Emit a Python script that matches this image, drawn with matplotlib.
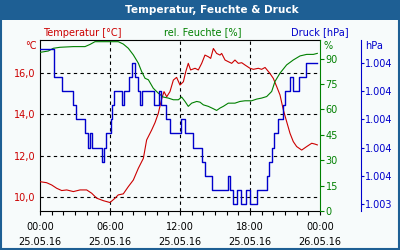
import matplotlib
matplotlib.use("Agg")
import matplotlib.pyplot as plt
from matplotlib.patches import Rectangle
from matplotlib.ticker import FixedLocator, FuncFormatter

# hours since 25.05.16 00:00
temp_hours = [0.00, 0.57, 1.00, 1.43, 1.86, 2.29, 2.86, 3.43, 4.00, 4.43, 4.86, 5.43, 6.00,
              6.43, 6.71, 7.14, 7.57, 8.00, 8.43, 8.86, 9.14, 9.57, 9.86, 10.14, 10.43, 10.63,
              10.86, 11.14, 11.43, 11.71, 12.00, 12.29, 12.49, 12.71, 12.91, 13.29, 13.57,
              13.86, 14.14, 14.43, 14.63, 14.86, 15.14, 15.43, 15.57, 15.86, 16.14, 16.43,
              16.71, 17.00, 17.29, 17.57, 18.00, 18.29, 18.71, 19.00, 19.29, 19.71, 20.00,
              20.29, 20.57, 20.86, 21.14, 21.43, 21.71, 22.00, 22.43, 22.86, 23.29, 23.57, 23.77]
temp_values = [10.74, 10.69, 10.58, 10.42, 10.31, 10.34, 10.26, 10.34, 10.34, 10.18, 9.94, 9.82,
               9.73, 9.94, 10.10, 10.15, 10.50, 10.82, 11.39, 11.87, 12.76, 13.24, 13.60, 14.05,
               14.75, 15.10, 14.85, 15.10, 15.66, 15.79, 15.42, 15.58, 16.06, 16.47, 16.15,
               16.23, 16.15, 16.47, 16.87, 16.79, 16.71, 17.19, 16.95, 16.87, 16.95, 16.63,
               16.55, 16.47, 16.63, 16.47, 16.50, 16.39, 16.23, 16.18, 16.23, 16.18, 16.27,
               15.98, 15.74, 15.34, 14.94, 14.21, 13.65, 13.08, 12.68, 12.44, 12.27, 12.44,
               12.60, 12.56, 12.52]

hum_hours = [0.00, 0.71, 1.14, 1.71, 2.86, 3.86, 4.29, 4.71, 6.71, 7.14, 7.57, 8.00, 8.43,
             8.71, 9.00, 9.29, 9.71, 10.14, 10.57, 11.00, 11.43, 11.86, 12.14, 12.43, 12.71,
             13.00, 13.43, 13.71, 14.00, 14.43, 14.86, 15.14, 15.43, 15.71, 16.14, 16.71,
             17.14, 17.57, 18.14, 18.57, 19.00, 19.43, 19.86, 20.14, 20.57, 21.14, 21.71,
             22.29, 22.86, 23.43, 23.77]
hum_values = [93.7, 94.5, 96.1, 96.7, 97.1, 97.1, 98.4, 100.0, 100.0, 98.6, 96.1, 92.2, 87.3,
              82.4, 78.4, 77.5, 72.5, 69.6, 67.3, 66.7, 65.7, 65.7, 67.3, 64.7, 61.8, 63.7,
              64.7, 64.3, 62.7, 61.8, 60.4, 59.4, 60.8, 61.8, 63.7, 63.7, 64.7, 65.1, 65.1,
              66.1, 66.7, 67.6, 70.6, 76.5, 81.4, 86.3, 89.2, 91.6, 92.5, 92.5, 93.1]

# pressure changes in steps of 0.1 hPa, one entry per change
press_hours = [0.00, 1.20, 1.86, 2.86, 3.09, 3.86, 4.14, 4.29, 4.43, 5.29, 5.49, 5.66, 6.06,
               6.20, 6.31, 7.00, 7.20, 7.66, 7.89, 8.11, 8.37, 8.57, 8.74, 9.80, 10.20, 10.37,
               10.80, 11.14, 12.06, 12.40, 13.14, 13.91, 14.14, 14.71, 16.14, 16.29, 16.57,
               16.91, 17.20, 17.66, 18.00, 18.63, 19.49, 19.66, 19.86, 20.06, 20.43, 20.80,
               21.00, 21.43, 21.71, 22.20, 22.77, 23.77]
press_values = [1004.5, 1004.3, 1004.2, 1004.1, 1004.0, 1003.9, 1003.8, 1003.9, 1003.8, 1003.7,
                1003.8, 1003.9, 1004.0, 1004.1, 1004.2, 1004.1, 1004.2, 1004.3, 1004.4, 1004.3,
                1004.2, 1004.1, 1004.2, 1004.1, 1004.2, 1004.1, 1004.0, 1003.9, 1004.0, 1003.9,
                1003.8, 1003.7, 1003.6, 1003.5, 1003.6, 1003.5, 1003.4, 1003.5, 1003.4, 1003.5,
                1003.4, 1003.5, 1003.6, 1003.7, 1003.8, 1003.9, 1004.0, 1004.1, 1004.2, 1004.3,
                1004.2, 1004.3, 1004.4, 1004.4]

x_ticks = [0, 6, 12, 18, 24]
x_labels = ["00:00\n25.05.16", "06:00\n25.05.16", "12:00\n25.05.16",
            "18:00\n25.05.16", "00:00\n26.05.16"]
temp_ticks = [10, 12, 14, 16]
hum_ticks = [0, 15, 30, 45, 60, 75, 90]
press_ticks = [1003.4, 1003.6, 1003.8, 1004.0, 1004.2, 1004.4]

RED = "#cc0000"
GREEN = "#008000"
BLUE = "#0000cc"
FRAME = "#1e5f94"
BG = "#f7fbfb"

W, H = 400, 250
fig = plt.figure(figsize=(4, 2.5), dpi=100, facecolor=BG)
plt.rcParams["font.family"] = "DejaVu Sans"

# title bar and outer frame
fig.patches.append(Rectangle((0, 1 - 20 / H), 1, 20 / H, transform=fig.transFigure,
                             facecolor=FRAME, edgecolor="none", zorder=0))
fig.patches.append(Rectangle((0.5 / W, 1 / H), 1 - 1.5 / W, 1 - 1.5 / H, transform=fig.transFigure,
                             facecolor="none", edgecolor=FRAME, linewidth=1.5, zorder=5))
fig.text(212 / W, 1 - 10 / H, "Temperatur, Feuchte & Druck", color="white", fontsize=7.6,
         fontweight="bold", ha="center", va="center")

# series names above the plot
fig.text(82 / W, 1 - 32.5 / H, "Temperatur [°C]", color=RED, fontsize=7, ha="center", va="center")
fig.text(203 / W, 1 - 32.5 / H, "rel. Feuchte [%]", color=GREEN, fontsize=7, ha="center", va="center")
fig.text(320 / W, 1 - 32.5 / H, "Druck [hPa]", color=BLUE, fontsize=7, ha="center", va="center")

# unit labels
fig.text(37 / W, 1 - 46 / H, "°C", color=RED, fontsize=7, ha="right", va="center")
fig.text(323 / W, 1 - 46 / H, "%", color=GREEN, fontsize=7, ha="left", va="center")
fig.text(365 / W, 1 - 46 / H, "hPa", color=BLUE, fontsize=7, ha="left", va="center")

ax = fig.add_axes([40 / W, (H - 211) / H, 280 / W, 171 / H])
ax.set_facecolor("none")
ax.set_xlim(0, 24)
ax.set_ylim(9.32, 17.6)

# grid
for t in temp_ticks:
    ax.axhline(t, color="black", linestyle=(0, (3, 3)), linewidth=0.8, zorder=1)
for h in x_ticks[1:-1]:
    ax.axvline(h, color="black", linestyle=(0, (3, 3)), linewidth=0.8, zorder=1)

ax.plot(temp_hours, temp_values, color=RED, linewidth=0.8, zorder=3)

ax.set_xticks(x_ticks)
ax.set_xticklabels(x_labels, fontsize=7, linespacing=1.6)
ax.xaxis.set_minor_locator(FixedLocator(range(25)))
ax.tick_params(axis="x", which="both", length=3, width=0.8, direction="out", pad=5)
ax.set_yticks(temp_ticks)
ax.yaxis.set_major_formatter(FuncFormatter(lambda v, p: f"{v:.1f}".replace(".", ",")))
ax.tick_params(axis="y", length=0, labelsize=7, labelcolor=RED, pad=3)
for s in ["left", "top", "bottom"]:
    ax.spines[s].set_linewidth(0.8)
ax.spines["right"].set_visible(False)

# humidity axis
ax2 = ax.twinx()
ax2.set_ylim(0, 101)
ax2.plot(hum_hours, hum_values, color=GREEN, linewidth=0.8, zorder=3)
ax2.set_yticks(hum_ticks)
ax2.tick_params(axis="y", length=3, width=0.8, color=GREEN, labelsize=7, labelcolor=GREEN, pad=1)
ax2.spines["right"].set_color(GREEN)
ax2.spines["right"].set_linewidth(0.8)
for s in ["left", "top", "bottom"]:
    ax2.spines[s].set_visible(False)

# pressure axis
ax3 = ax.twinx()
ax3.set_ylim(1003.35, 1004.563)
ax3.plot(press_hours, press_values, color=BLUE, linewidth=1.0, drawstyle="steps-post", zorder=4)
ax3.spines["right"].set_position(("axes", (361 - 40) / 280))
ax3.spines["right"].set_color(BLUE)
ax3.spines["right"].set_linewidth(0.8)
for s in ["left", "top", "bottom"]:
    ax3.spines[s].set_visible(False)
ax3.set_yticks(press_ticks)
ax3.yaxis.set_major_formatter(FuncFormatter(lambda v, p: f"{round(v):,}".replace(",", ".")))
ax3.tick_params(axis="y", length=2, width=0.8, color=BLUE, labelsize=7, labelcolor=BLUE, pad=1)

fig.savefig("out.png", dpi=100, facecolor=BG)
